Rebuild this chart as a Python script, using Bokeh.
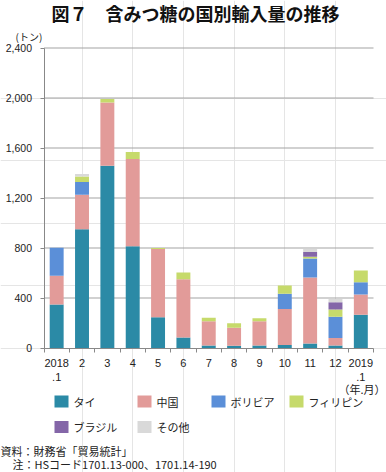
from bokeh.plotting import figure
from bokeh.models import FixedTicker, Range1d, LinearAxis
from bokeh.core.properties import value
from bokeh.embed import file_html
from bokeh.resources import INLINE

# ---- data ----
months = ["2018\n.1", "2", "3", "4", "5", "6", "7", "8", "9", "10", "11", "12", "2019\n.1"]
series_names = ["タイ", "中国", "ボリビア", "フィリピン", "ブラジル", "その他"]
thai = [348, 950, 1459, 814, 246, 85, 21, 19, 20, 24, 37, 21, 267]
china = [230, 276, 506, 698, 546, 466, 193, 144, 194, 289, 528, 59, 161]
bolivia = [225, 102, 0, 0, 0, 0, 0, 0, 0, 121, 152, 171, 99]
philippines = [0, 45, 27, 57, 8, 54, 29, 35, 24, 66, 14, 57, 94]
brazil = [0, 0, 0, 0, 0, 0, 0, 0, 0, 0, 37, 58, 0]
others = [0, 19, 0, 0, 0, 0, 0, 0, 0, 0, 24, 27, 0]
y_ticks = [0, 400, 800, 1200, 1600, 2000, 2400]
y_tick_labels = ["0", "400", "800", "1,200", "1,600", "2,000", "2,400"]
title_text = "図７　含みつ糖の国別輸入量の推移"
unit_text = "(トン)"
xunit_text = "（年.月）"
source_text = "資料：財務省「貿易統計」"
note_text = "注：HSコード1701.13-000、1701.14-190"

colors = ["#2b8aa6", "#e29b99", "#5b8fd8", "#c6da6b", "#8466a8", "#d9d9d9"]

JP = "Noto Sans CJK JP"
NUM = "Liberation Sans, Noto Sans CJK JP"
TXT = "#222222"
AX = "#888888"

# ---- canvas geometry (pixels) ----
W, H = 386, 472
PX_L, PX_R = 43.5, 373.0     # plot area left/right
PY_T, PY_B = 47.5, 347.5     # plot area top/bottom

n = len(months)
ppx = (PX_R - PX_L) / n
ymax = y_ticks[-1]
ppy = (PY_B - PY_T) / ymax

p = figure(width=W, height=H, output_backend="svg", toolbar_location=None,
           x_range=Range1d(0.5 - PX_L / ppx, 0.5 + (W - PX_L) / ppx),
           y_range=Range1d(-(H - PY_B) / ppy, PY_B / ppy),
           x_axis_location=None, y_axis_location=None, min_border=0)
p.min_border_left = p.min_border_right = p.min_border_top = p.min_border_bottom = 0
p.title.visible = False
p.outline_line_color = None
p.background_fill_color = "white"
p.border_fill_color = "white"
p.extra_x_ranges = {"px": Range1d(0, W)}
p.extra_y_ranges = {"px": Range1d(H, 0)}

xs = list(range(1, n + 1))

# horizontal grid lines
gy = y_ticks[1:]
p.segment(x0=[0.5] * len(gy), x1=[n + 0.5] * len(gy), y0=gy, y1=gy,
          line_color="#a3a3a3", line_width=1)

# stacked bars
data = {"x": xs}
keys = ["thai", "china", "bolivia", "philippines", "brazil", "others"]
for k, arr in zip(keys, [thai, china, bolivia, philippines, brazil, others]):
    data[k] = arr
p.vbar_stack(keys, x="x", width=0.55, color=colors, line_color=None, source=data)

# y axis (drawn at the left edge of the plot area)
ya = LinearAxis(fixed_location=0.5, bounds=(0, ymax), ticker=FixedTicker(ticks=y_ticks))
ya.major_label_overrides = {t: l for t, l in zip(y_ticks, y_tick_labels)}
ya.axis_line_color = AX
ya.major_tick_line_color = AX
ya.major_tick_out = 4
ya.major_tick_in = 0
ya.minor_tick_line_color = None
ya.major_label_standoff = 8
ya.major_label_text_font = NUM
ya.major_label_text_font_size = "10.5px"
ya.major_label_text_color = TXT
p.add_layout(ya, "left")

# x axis (drawn at value 0)
xa = LinearAxis(fixed_location=0, bounds=(0.5, n + 0.5),
                ticker=FixedTicker(ticks=xs, minor_ticks=[x + 0.5 for x in range(0, n + 1)]))
xa.major_label_overrides = {x: m for x, m in zip(xs, months)}
xa.axis_line_color = AX
xa.major_tick_line_color = None
xa.major_tick_out = 0
xa.major_tick_in = 0
xa.minor_tick_line_color = AX
xa.minor_tick_out = 4
xa.minor_tick_in = 0
xa.major_label_standoff = 5
xa.major_label_text_font = NUM
xa.major_label_text_font_size = "11px"
xa.major_label_text_color = TXT
p.add_layout(xa, "below")

# ---- texts (pixel coordinates) ----
R = dict(x_range_name="px", y_range_name="px")
p.text(x=[195], y=[12], text=[title_text], text_font=value(JP), text_font_size="18px",
       text_font_style="bold", text_align="center", text_baseline="middle",
       text_color="#111111", **R)
p.text(x=[28.5], y=[36], text=[unit_text], text_font=value(JP), text_font_size="10px",
       text_align="center", text_baseline="middle", text_color=TXT, **R)
p.text(x=[385], y=[388], text=[xunit_text], text_font=value(JP), text_font_size="11px",
       text_align="right", text_baseline="middle", text_color=TXT, **R)

# legend
leg_x = [54, 137, 211, 289, 54, 137]
leg_y = [401, 401, 401, 401, 426.5, 426.5]
p.quad(left=leg_x, right=[x + 14 for x in leg_x], top=[y - 6 for y in leg_y],
       bottom=[y + 6 for y in leg_y], fill_color=colors, line_color=None, **R)
p.text(x=[x + 19 for x in leg_x], y=leg_y, text=series_names, text_font=value(JP),
       text_font_size="11px", text_baseline="middle", text_color=TXT, **R)

# source / note
p.text(x=[0, 12], y=[450, 463], text=[source_text, note_text], text_font=value(JP),
       text_font_size="11px", text_baseline="middle", text_color=TXT, **R)

open("out.html", "w").write(file_html(p, INLINE))
